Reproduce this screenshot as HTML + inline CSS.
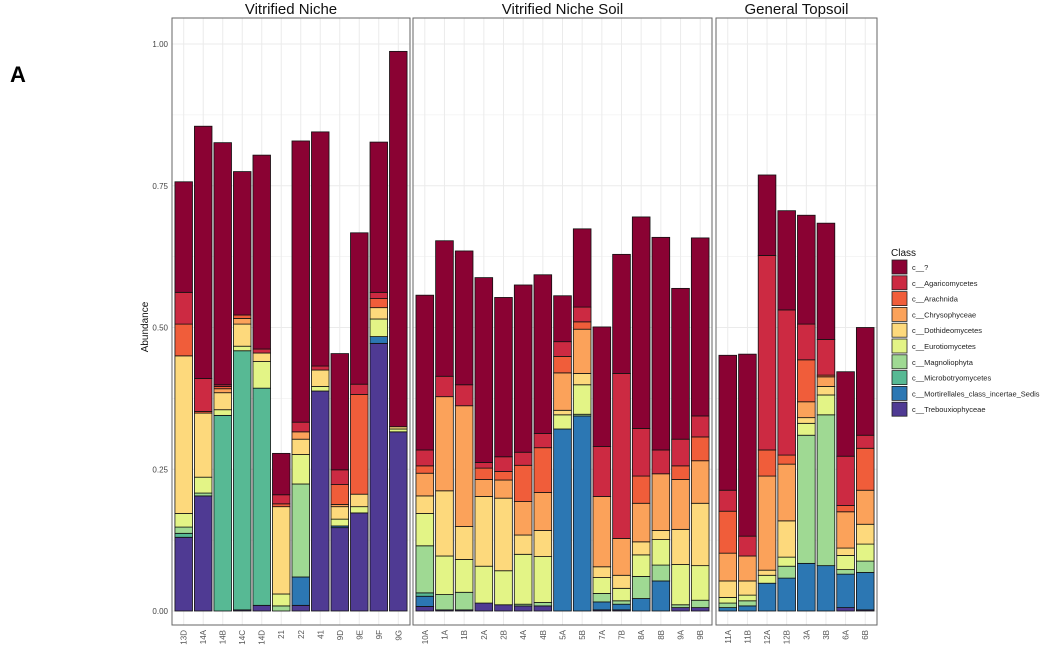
<!DOCTYPE html>
<html><head><meta charset="utf-8"><style>
body{margin:0;background:#fff;}
svg{display:block;font-family:"Liberation Sans",sans-serif;}
</style></head><body>
<svg id="chart" width="1050" height="659">
<text x="10" y="82" font-size="22" font-weight="bold">A</text>
<text transform="translate(148,327) rotate(-90)" text-anchor="middle" font-size="10" fill="#111">Abundance</text>
<g id="plots"></g>
<g id="legend"></g>
</svg>
<script>
const classes=["c__Trebouxiophyceae","c__Mortirellales_class_incertae_Sedis","c__Microbotryomycetes","c__Magnoliophyta","c__Eurotiomycetes","c__Dothideomycetes","c__Chrysophyceae","c__Arachnida","c__Agaricomycetes","c__?"];
const colors=["#4f3a93","#2c77b3","#57b994","#9fd993","#e3f486","#fdd97c","#fba25a","#f05d3a","#cc2a42","#8a0233"];
const panelNames=["Vitrified Niche","Vitrified Niche Soil","General Topsoil"];
const samples1=["13D","14A","14B","14C","14D","21","22","41","9D","9E","9F","9G"];
const samples2=["10A","1A","1B","2A","2B","4A","4B","5A","5B","7A","7B","8A","8B","9A","9B"];
const samples3=["11A","11B","12A","12B","3A","3B","6A","6B"];
// values per sample: [Treb, Mort, Microb, Magno, Euro, Doth, Chrys, Arach, Agari, ?]
const values1=[
[.13,0,.007,.011,.024,.278,0,.056,.056,.195],
[.203,0,0,.005,.028,.113,0,.003,.058,.445],
[0,0,.345,0,.01,.03,.007,.004,.003,.427],
[.002,0,.457,0,.008,.039,.01,.006,0,.253],
[.01,0,.383,0,.047,.015,0,0,.007,.342],
[0,0,0,.009,.021,.154,0,.005,.016,.073],
[.01,.05,0,.164,.052,.027,.013,0,.017,.496],
[.388,0,0,0,.008,.029,0,0,.007,.413],
[.147,.003,0,0,.012,.022,.004,.035,.026,.205],
[.173,0,0,0,.011,.022,0,.176,.018,.267],
[.472,.012,0,0,.031,.02,0,.016,.011,.265],
[.316,0,0,0,.005,.004,0,0,0,.662]];
const values2=[
[.008,.018,.006,.083,.057,.031,.04,.013,.028,.273],
[.002,0,0,.027,.068,.115,.166,0,.036,.239],
[.002,0,0,.031,.058,.058,.213,0,.037,.236],
[.014,0,0,0,.065,.123,.03,.02,.01,.326],
[.011,0,0,0,.06,.128,.032,.015,.026,.281],
[.009,0,0,.003,.088,.034,.059,.064,.023,.295],
[.009,0,0,.006,.081,.046,.067,.079,.025,.28],
[0,.321,0,0,.025,.008,.066,.029,.026,.081],
[0,.344,0,.003,.052,.02,.078,.013,.026,.138],
[.002,.014,0,.015,.028,.019,.124,0,.088,.211],
[.002,.01,0,.006,.022,.023,.065,0,.291,.21],
[0,.022,0,.039,.038,.023,.068,.048,.084,.373],
[0,.053,0,.028,.045,.016,.1,0,.042,.375],
[.006,0,0,.005,.071,.062,.088,.024,.047,.266],
[.006,0,0,.013,.061,.11,.075,.042,.037,.314]];
const values3=[
[0,.006,0,.008,.01,.029,.049,.074,.037,.238],
[0,.009,0,.009,.01,.025,.044,0,.035,.321],
[0,.049,0,0,.014,.009,.166,.046,.343,.142],
[0,.058,0,.021,.016,.064,.1,.016,.256,.175],
[0,.084,0,.226,.021,.01,.028,.074,.063,.192],
[0,.08,0,.266,.035,.015,.017,.003,.063,.205],
[.006,.059,0,.008,.025,.013,.064,.011,.087,.149],
[.002,.066,0,.02,.03,.035,.06,.074,.023,.19]];
const yTicks=[0,0.25,0.5,0.75,1];
const yTickLabels=["0.00","0.25","0.50","0.75","1.00"];

const NS="http://www.w3.org/2000/svg";
const plotTop=18,plotBottom=625;
const yScale=v=>611-v*567;
function mk(tag,attrs,parent){const e=document.createElementNS(NS,tag);for(const k in attrs)e.setAttribute(k,attrs[k]);parent.appendChild(e);return e;}
const plots=document.getElementById('plots');
const panels=[{x0:172,x1:410,s:samples1,v:values1},{x0:413,x1:712,s:samples2,v:values2},{x0:716,x1:877,s:samples3,v:values3}];
yTicks.forEach((t,i)=>{
 const tx=mk('text',{x:168,y:yScale(t)+3,'text-anchor':'end','font-size':'8','fill':'#444'},plots);
 
 
 tx.textContent=yTickLabels[i];
});
panels.forEach((p,pi)=>{
 const g=mk('g',{},plots);
 
 
 const n=p.s.length,unit=(p.x1-p.x0)/(n+0.2);
 const xc=i=>p.x0+(i+0.6)*unit;
 for(let k=0;k<9;k++){const t=k*0.125;if(yScale(t)<plotTop)continue;
  mk('line',{x1:p.x0,x2:p.x1,y1:yScale(t),y2:yScale(t),stroke:'#ebebeb','stroke-width':k%2?0.6:1},g);}
 for(let i=0;i<n;i++)mk('line',{x1:xc(i),x2:xc(i),y1:plotTop,y2:plotBottom,stroke:'#ebebeb','stroke-width':1},g);
 p.v.forEach((vals,i)=>{
  let cum=0;const bw=unit*0.9;
  vals.forEach((v,c)=>{
   if(v<=0)return;
   const r=mk('rect',{x:xc(i)-bw/2,y:yScale(cum+v),width:bw,height:v*567,fill:colors[c],stroke:'#111','stroke-width':0.8},g);
   
   
   cum+=v;
  });
  const lb=mk('text',{transform:`translate(${xc(i)+3},630) rotate(-90)`,'text-anchor':'end','font-size':'8','fill':'#555'},g);
  
  
  lb.textContent=p.s[i];
 });
 const fr=mk('rect',{x:p.x0,y:plotTop,width:p.x1-p.x0,height:plotBottom-plotTop,fill:'none',stroke:'#666','stroke-width':1},g);
 
 
 const st=mk('text',{x:(p.x0+p.x1)/2,y:14,'text-anchor':'middle','font-size':'15','fill':'#111'},g);
 
 
 st.textContent=panelNames[pi];
});
const lg=document.getElementById('legend');


const lt=mk('text',{x:891,y:256,'font-size':'10','fill':'#111'},lg);


lt.textContent='Class';
for(let k=0;k<classes.length;k++){
 const c=classes.length-1-k;const yy=260+k*15.8;
 const r=mk('rect',{x:892,y:yy,width:15,height:14,fill:colors[c],stroke:'#222','stroke-width':0.8},lg);
 
 
 const t=mk('text',{x:912,y:yy+10,'font-size':'7.5','fill':'#222'},lg);
 
 
 t.textContent=classes[c];
}
</script>
</body></html>
